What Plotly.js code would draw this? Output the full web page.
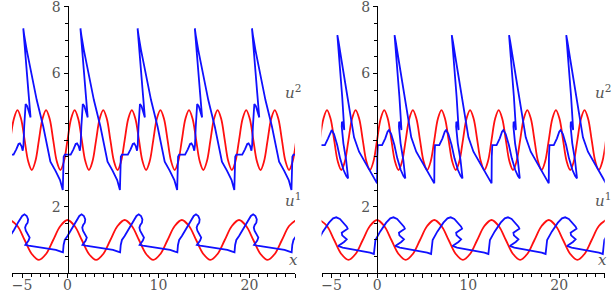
<!DOCTYPE html>
<html><head><meta charset="utf-8">
<script src="https://cdn.plot.ly/plotly-3.0.1.min.js"></script>
<style>html,body{margin:0;padding:0;background:#fff;}#chart{width:615px;height:295px;}</style>
</head><body><div id="chart"></div>
<script>
// ---- red initial profiles (same in both panels) ----
const redUpperX = [-6.283,-5.890,-5.498,-5.105,-4.712,-4.320,-3.927,-3.534,-3.142,-2.749,-2.356,-1.963,-1.571,-1.178,-0.785,-0.393,0,0.393,0.785,1.178,1.571,1.963,2.356,2.749,3.142,3.534,3.927,4.320,4.712,5.105,5.498,5.890,6.283,6.676,7.069,7.461,7.854,8.247,8.639,9.032,9.425,9.817,10.210,10.603,10.996,11.388,11.781,12.174,12.566,12.959,13.352,13.744,14.137,14.530,14.923,15.315,15.708,16.101,16.493,16.886,17.279,17.671,18.064,18.457,18.850,19.242,19.635,20.028,20.420,20.813,21.206,21.598,21.991,22.384,22.777,23.169,23.562,23.955,24.347,24.740,25.133];
const redUpperY = [4.00,4.64,4.90,4.64,4.00,3.36,3.10,3.36, 4.00,4.64,4.90,4.64,4.00,3.36,3.10,3.36, 4.00,4.64,4.90,4.64,4.00,3.36,3.10,3.36, 4.00,4.64,4.90,4.64,4.00,3.36,3.10,3.36, 4.00,4.64,4.90,4.64,4.00,3.36,3.10,3.36, 4.00,4.64,4.90,4.64,4.00,3.36,3.10,3.36, 4.00,4.64,4.90,4.64,4.00,3.36,3.10,3.36, 4.00,4.64,4.90,4.64,4.00,3.36,3.10,3.36, 4.00,4.64,4.90,4.64,4.00,3.36,3.10,3.36, 4.00,4.64,4.90,4.64,4.00,3.36,3.10,3.36, 4.00];
const redLowerX = [-6.283,-5.498,-4.712,-3.927,-3.142,-2.356,-1.571,-0.785,0,0.785,1.571,2.356,3.142,3.927,4.712,5.498,6.283,7.069,7.854,8.639,9.425,10.210,10.996,11.781,12.566,13.352,14.137,14.923,15.708,16.493,17.279,18.064,18.850,19.635,20.420,21.206,21.991,22.777,23.562,24.347,25.133];
const redLowerY = [1.60,1.42,1.00,0.58,0.40,0.58,1.00,1.42, 1.60,1.42,1.00,0.58,0.40,0.58,1.00,1.42, 1.60,1.42,1.00,0.58,0.40,0.58,1.00,1.42, 1.60,1.42,1.00,0.58,0.40,0.58,1.00,1.42, 1.60,1.42,1.00,0.58,0.40,0.58,1.00,1.42, 1.60];

// ---- left panel, blue u^2 ----
const leftUpperX = [
 -6.58,-5.93,-5.63,-5.38,-5.23,-5.06,-4.92,-4.84,-4.76,-4.68,-4.60,-4.43,-4.23,-4.06,-4.28,-4.53,-4.73,-4.86,-4.76,-4.48,-4.10,-3.38,-2.66,-1.88,-1.33,-0.82,
 -0.52,-0.47,-0.42,-0.30,0.35,0.65,0.90,1.05,1.22,1.36,1.44,1.52,1.60,1.68,1.85,2.05,2.22,2.00,1.75,1.55,1.42,1.52,1.80,2.18,2.90,3.62,4.40,4.95,5.46,
 5.76,5.81,5.86,5.98,6.63,6.93,7.18,7.33,7.50,7.64,7.72,7.80,7.88,7.96,8.13,8.33,8.50,8.28,8.03,7.83,7.70,7.80,8.08,8.46,9.18,9.90,10.68,11.23,11.74,
 12.05,12.10,12.15,12.27,12.92,13.22,13.47,13.62,13.79,13.93,14.01,14.09,14.17,14.25,14.42,14.62,14.79,14.57,14.32,14.12,13.99,14.09,14.37,14.75,15.47,16.19,16.97,17.52,18.03,
 18.33,18.38,18.43,18.55,19.20,19.50,19.75,19.90,20.07,20.21,20.29,20.37,20.45,20.53,20.70,20.90,21.07,20.85,20.60,20.40,20.27,20.37,20.65,21.03,21.75,22.47,23.25,23.80,24.31,
 24.61,24.66,24.71,24.83,25.48];
const leftUpperY = [
 3.56,3.56,3.72,3.88,3.90,3.82,3.68,3.85,4.40,4.90,5.08,5.02,4.85,4.68,5.40,6.30,7.00,7.35,7.15,6.70,6.20,5.20,4.40,3.35,3.08,2.80,
 2.50,3.25,3.50,3.56,3.56,3.72,3.88,3.90,3.82,3.68,3.85,4.40,4.90,5.08,5.02,4.85,4.68,5.40,6.30,7.00,7.35,7.15,6.70,6.20,5.20,4.40,3.35,3.08,2.80,
 2.50,3.25,3.50,3.56,3.56,3.72,3.88,3.90,3.82,3.68,3.85,4.40,4.90,5.08,5.02,4.85,4.68,5.40,6.30,7.00,7.35,7.15,6.70,6.20,5.20,4.40,3.35,3.08,2.80,
 2.50,3.25,3.50,3.56,3.56,3.72,3.88,3.90,3.82,3.68,3.85,4.40,4.90,5.08,5.02,4.85,4.68,5.40,6.30,7.00,7.35,7.15,6.70,6.20,5.20,4.40,3.35,3.08,2.80,
 2.50,3.25,3.50,3.56,3.56,3.72,3.88,3.90,3.82,3.68,3.85,4.40,4.90,5.08,5.02,4.85,4.68,5.40,6.30,7.00,7.35,7.15,6.70,6.20,5.20,4.40,3.35,3.08,2.80,
 2.50,3.25,3.50,3.56,3.56];

// ---- left panel, blue u^1 ----
const leftLowerX = [
 -6.58,-6.28,-5.88,-5.38,-4.98,-4.73,-4.48,-4.33,-4.38,-4.56,-4.66,-4.58,-4.33,-4.16,-4.28,-4.48,-4.63,-4.28,-3.28,-2.28,-1.28,-0.73,
 -0.50,-0.43,-0.30,0.00,0.40,0.90,1.30,1.55,1.80,1.95,1.90,1.72,1.62,1.70,1.95,2.12,2.00,1.80,1.65,2.00,3.00,4.00,5.00,5.55,
 5.78,5.85,5.98,6.28,6.68,7.18,7.58,7.83,8.08,8.23,8.18,8.00,7.90,7.98,8.23,8.40,8.28,8.08,7.93,8.28,9.28,10.28,11.28,11.83,
 12.07,12.14,12.27,12.57,12.97,13.47,13.87,14.12,14.37,14.52,14.47,14.29,14.19,14.27,14.52,14.69,14.57,14.37,14.22,14.57,15.57,16.57,17.57,18.12,
 18.35,18.42,18.55,18.85,19.25,19.75,20.15,20.40,20.65,20.80,20.75,20.57,20.47,20.55,20.80,20.97,20.85,20.65,20.50,20.85,21.85,22.85,23.85,24.40,
 24.63,24.70,24.83,25.13];
const leftLowerY = [
 1.00,1.12,1.30,1.55,1.72,1.77,1.72,1.62,1.52,1.45,1.37,1.28,1.17,1.07,0.98,0.90,0.85,0.83,0.79,0.75,0.70,0.65,
 0.63,0.85,1.00,1.12,1.30,1.55,1.72,1.77,1.72,1.62,1.52,1.45,1.37,1.28,1.17,1.07,0.98,0.90,0.85,0.83,0.79,0.75,0.70,0.65,
 0.63,0.85,1.00,1.12,1.30,1.55,1.72,1.77,1.72,1.62,1.52,1.45,1.37,1.28,1.17,1.07,0.98,0.90,0.85,0.83,0.79,0.75,0.70,0.65,
 0.63,0.85,1.00,1.12,1.30,1.55,1.72,1.77,1.72,1.62,1.52,1.45,1.37,1.28,1.17,1.07,0.98,0.90,0.85,0.83,0.79,0.75,0.70,0.65,
 0.63,0.85,1.00,1.12,1.30,1.55,1.72,1.77,1.72,1.62,1.52,1.45,1.37,1.28,1.17,1.07,0.98,0.90,0.85,0.83,0.79,0.75,0.70,0.65,
 0.63,0.85,1.00,1.12];

// ---- right panel, blue u^2 ----
const rightUpperX = [
 -6.20,-5.73,-5.38,-5.13,-4.98,-4.73,-4.38,-4.06,-3.68,-3.38,-3.18,-3.40,-3.70,-3.88,-3.86,-3.73,-3.60,-3.83,-4.13,-4.36,-4.23,-3.88,-3.54,-2.99,-2.53,-1.98,-1.34,-0.78,-0.22,
 0.00,0.02,0.08,0.55,0.90,1.15,1.30,1.55,1.90,2.22,2.60,2.90,3.10,2.88,2.58,2.40,2.42,2.55,2.68,2.45,2.15,1.92,2.05,2.40,2.74,3.29,3.75,4.30,4.94,5.50,6.06,
 6.28,6.30,6.36,6.83,7.18,7.43,7.58,7.83,8.18,8.50,8.88,9.18,9.38,9.16,8.86,8.68,8.70,8.83,8.96,8.73,8.43,8.20,8.33,8.68,9.02,9.57,10.03,10.58,11.22,11.78,12.34,
 12.57,12.59,12.65,13.12,13.47,13.72,13.87,14.12,14.47,14.79,15.17,15.47,15.67,15.45,15.15,14.97,14.99,15.12,15.25,15.02,14.72,14.49,14.62,14.97,15.31,15.86,16.32,16.87,17.51,18.07,18.63,
 18.85,18.87,18.93,19.40,19.75,20.00,20.15,20.40,20.75,21.07,21.45,21.75,21.95,21.73,21.43,21.25,21.27,21.40,21.53,21.30,21.00,20.77,20.90,21.25,21.59,22.14,22.60,23.15,23.79,24.35,24.91,
 25.13,25.15,25.21];
const rightUpperY = [
 3.85,3.85,4.05,4.25,4.30,4.18,3.85,3.45,3.10,2.92,2.85,3.40,3.90,4.40,4.55,4.48,4.30,5.30,6.40,7.15,6.95,6.35,5.75,4.75,4.08,3.65,3.35,3.05,2.80,
 2.70,3.50,3.85,3.85,4.05,4.25,4.30,4.18,3.85,3.45,3.10,2.92,2.85,3.40,3.90,4.40,4.55,4.48,4.30,5.30,6.40,7.15,6.95,6.35,5.75,4.75,4.08,3.65,3.35,3.05,2.80,
 2.70,3.50,3.85,3.85,4.05,4.25,4.30,4.18,3.85,3.45,3.10,2.92,2.85,3.40,3.90,4.40,4.55,4.48,4.30,5.30,6.40,7.15,6.95,6.35,5.75,4.75,4.08,3.65,3.35,3.05,2.80,
 2.70,3.50,3.85,3.85,4.05,4.25,4.30,4.18,3.85,3.45,3.10,2.92,2.85,3.40,3.90,4.40,4.55,4.48,4.30,5.30,6.40,7.15,6.95,6.35,5.75,4.75,4.08,3.65,3.35,3.05,2.80,
 2.70,3.50,3.85,3.85,4.05,4.25,4.30,4.18,3.85,3.45,3.10,2.92,2.85,3.40,3.90,4.40,4.55,4.48,4.30,5.30,6.40,7.15,6.95,6.35,5.75,4.75,4.08,3.65,3.35,3.05,2.80,
 2.70,3.50,3.85];

// ---- right panel, blue u^1 ----
const rightLowerX = [
 -6.58,-6.46,-5.95,-5.28,-4.83,-4.48,-4.08,-3.63,-3.33,-3.23,-3.53,-3.88,-3.83,-3.53,-3.33,-3.63,-4.03,-4.28,-3.78,-2.78,-1.78,-0.78,
 -0.35,-0.30,-0.18,0.33,1.00,1.45,1.80,2.20,2.65,2.95,3.05,2.75,2.40,2.45,2.75,2.95,2.65,2.25,2.00,2.50,3.50,4.50,5.50,
 5.93,5.98,6.10,6.61,7.28,7.73,8.08,8.48,8.93,9.23,9.33,9.03,8.68,8.73,9.03,9.23,8.93,8.53,8.28,8.78,9.78,10.78,11.78,
 12.22,12.27,12.39,12.90,13.57,14.02,14.37,14.77,15.22,15.52,15.62,15.32,14.97,15.02,15.32,15.52,15.22,14.82,14.57,15.07,16.07,17.07,18.07,
 18.50,18.55,18.67,19.18,19.85,20.30,20.65,21.05,21.50,21.80,21.90,21.60,21.25,21.30,21.60,21.80,21.50,21.10,20.85,21.35,22.35,23.35,24.35,
 24.78,24.83,24.95,25.46];
const rightLowerY = [
 0.80,1.00,1.25,1.52,1.65,1.68,1.63,1.50,1.40,1.34,1.29,1.22,1.14,1.07,1.02,0.94,0.88,0.82,0.77,0.72,0.68,0.62,
 0.58,0.80,1.00,1.25,1.52,1.65,1.68,1.63,1.50,1.40,1.34,1.29,1.22,1.14,1.07,1.02,0.94,0.88,0.82,0.77,0.72,0.68,0.62,
 0.58,0.80,1.00,1.25,1.52,1.65,1.68,1.63,1.50,1.40,1.34,1.29,1.22,1.14,1.07,1.02,0.94,0.88,0.82,0.77,0.72,0.68,0.62,
 0.58,0.80,1.00,1.25,1.52,1.65,1.68,1.63,1.50,1.40,1.34,1.29,1.22,1.14,1.07,1.02,0.94,0.88,0.82,0.77,0.72,0.68,0.62,
 0.58,0.80,1.00,1.25,1.52,1.65,1.68,1.63,1.50,1.40,1.34,1.29,1.22,1.14,1.07,1.02,0.94,0.88,0.82,0.77,0.72,0.68,0.62,
 0.58,0.80,1.00,1.25];

// ---- axis ticks and labels ----
const xTickVals = [-5,0,5,10,15,20,25];
const xTickText = ['\u22125','0','','10','','20',''];
const yTickVals = [2,4,6,8];
const yTickText = ['2','','6','8'];
const curveLabels = [
  {text:'<i>u</i><sup>2</sup>', y:5.44},
  {text:'<i>u</i><sup>1</sup>', y:2.2},
  {text:'<i>x</i>', y:0.4}
];

const RED = '#ff1010', BLUE = '#1010ff', LW = 1.8;
const SERIF = 'DejaVu Serif';
const FONT = {family:SERIF, size:14, color:'#555'};
const xRange = [-6.1, 25.0], yRange = [0, 8.02];
const domL = [0.0195, 0.4797], domR = [0.5228, 0.9834], domY = [0.0736, 0.9793];
function yPos(dom){ return dom[0] + (0 - xRange[0])/(xRange[1]-xRange[0])*(dom[1]-dom[0]); }

function line(x, y, color, xa, ya, shape){
  return {x:x, y:y, type:'scatter', mode:'lines', xaxis:xa, yaxis:ya,
    line:{color:color, width:LW, shape:shape||'linear'}, hoverinfo:'skip', showlegend:false};
}
const traces = [
  line(redUpperX, redUpperY, RED, 'x', 'y', 'spline'),
  line(redLowerX, redLowerY, RED, 'x', 'y', 'spline'),
  line(leftUpperX, leftUpperY, BLUE, 'x', 'y'),
  line(leftLowerX, leftLowerY, BLUE, 'x', 'y'),
  line(redUpperX, redUpperY, RED, 'x2', 'y2', 'spline'),
  line(redLowerX, redLowerY, RED, 'x2', 'y2', 'spline'),
  line(rightUpperX, rightUpperY, BLUE, 'x2', 'y2'),
  line(rightLowerX, rightLowerY, BLUE, 'x2', 'y2')
];

function xAxis(dom, yname){
  return {domain:dom, range:xRange, anchor:yname, showline:true, linecolor:'#000', linewidth:1.2,
    showgrid:false, zeroline:false, ticks:'outside', ticklen:4, tickcolor:'#000', tickwidth:1,
    tickmode:'array', tickvals:xTickVals, ticktext:xTickText, tickfont:FONT,
    ticklabeloverflow:'allow', ticklabelstandoff:-5,
    minor:{tickmode:'linear', tick0:0, dtick:1, ticks:'outside', ticklen:3, tickcolor:'#000', tickwidth:1}};
}
function yAxis(dom){
  return {domain:domY, range:yRange, anchor:'free', position:yPos(dom), showline:true, linecolor:'#000', linewidth:1.2,
    showgrid:false, zeroline:false, ticks:'outside', ticklen:4, tickcolor:'#000', tickwidth:1,
    tickmode:'array', tickvals:yTickVals, ticktext:yTickText, tickfont:FONT, ticklabeloverflow:'allow',
    minor:{tickmode:'linear', tick0:0, dtick:0.5, ticks:'outside', ticklen:3, tickcolor:'#000', tickwidth:1}};
}
const annotations = [];
[['x','y'],['x2','y2']].forEach(function(p){
  curveLabels.forEach(function(l){
    annotations.push({text:l.text, x:24.8, y:l.y, xref:p[0], yref:p[1], showarrow:false,
      font:{family:SERIF, size:15, color:'#555'}, xanchor:'center', yanchor:'middle'});
  });
});

const layout = {width:615, height:295, autosize:false, margin:{l:0,r:0,t:0,b:0,pad:0},
  paper_bgcolor:'#fff', plot_bgcolor:'rgba(0,0,0,0)', showlegend:false,
  font:{family:SERIF},
  xaxis:xAxis(domL,'y'), yaxis:yAxis(domL), xaxis2:xAxis(domR,'y2'), yaxis2:yAxis(domR),
  annotations:annotations};
Plotly.newPlot('chart', traces, layout, {displayModeBar:false, staticPlot:true});
</script></body></html>
